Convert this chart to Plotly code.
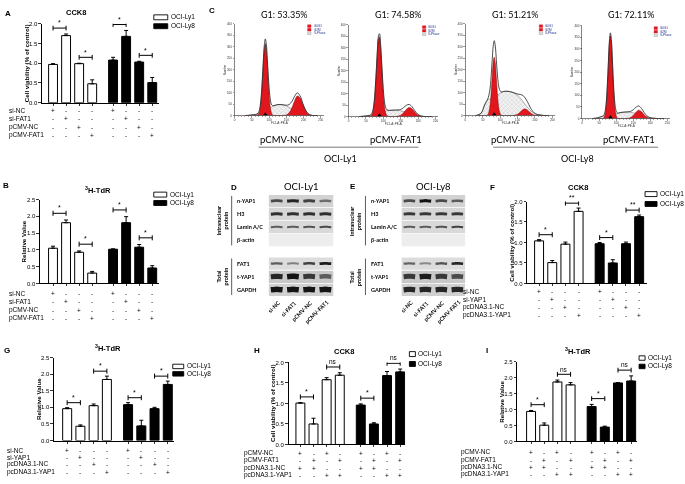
import plotly.graph_objects as go

W, H = 685, 484
ARIAL = "Liberation Sans, Arial, sans-serif"
CAL = "Lato, Open Sans, sans-serif"

# ------------------------------------------------------------------ data
series_names = ["OCI-Ly1", "OCI-Ly8"]

# A  CCK8 (FAT1)
A_ly1 = [0.97, 1.70, 0.99, 0.48]
A_ly1_err = [0.02, 0.04, 0.01, 0.10]
A_ly8 = [1.08, 1.68, 1.03, 0.51]
A_ly8_err = [0.07, 0.15, 0.02, 0.13]
A_sig = ["*", "*", "*", "*"]
A_rows = ["si-NC", "si-FAT1", "pCMV-NC", "pCMV-FAT1"]
A_signs = ["+---+---", "-+---+--", "--+---+-", "---+---+"]

# B  3H-TdR (FAT1)
B_ly1 = [1.05, 1.81, 0.93, 0.31]
B_ly1_err = [0.06, 0.08, 0.04, 0.05]
B_ly8 = [1.02, 1.81, 1.08, 0.46]
B_ly8_err = [0.01, 0.18, 0.08, 0.07]
B_sig = ["*", "*", "*", "*"]
B_rows = ["si-NC", "si-FAT1", "pCMV-NC", "pCMV-FAT1"]
B_signs = ["+---+---", "-+---+--", "--+---+-", "---+---+"]

# F  CCK8 (YAP1)
F_ly1 = [1.04, 0.51, 0.96, 1.76]
F_ly1_err = [0.03, 0.05, 0.05, 0.08]
F_ly8 = [0.97, 0.50, 0.97, 1.63]
F_ly8_err = [0.03, 0.08, 0.04, 0.04]
F_sig = ["*", "**", "*", "**"]
F_rows = ["si-NC", "si-YAP1", "pcDNA3.1-NC", "pcDNA3.1-YAP1"]
F_signs = ["+---+---", "-+---+--", "--+---+-", "---+---+"]

# G  3H-TdR (YAP1)
G_ly1 = [0.96, 0.43, 1.05, 1.84]
G_ly1_err = [0.03, 0.04, 0.05, 0.10]
G_ly8 = [1.08, 0.44, 0.96, 1.69]
G_ly8_err = [0.06, 0.17, 0.04, 0.10]
G_sig = ["*", "*", "*", "*"]
G_rows = ["si-NC", "si-YAP1", "pcDNA3.1-NC", "pcDNA3.1-YAP1"]
G_signs = ["+---+---", "-+---+--", "--+---+-", "---+---+"]

# H  CCK8 (rescue)
H_ly1 = [1.01, 0.50, 1.58, 1.69]
H_ly1_err = [0.01, 0.14, 0.05, 0.06]
H_ly8 = [0.96, 0.50, 1.68, 1.77]
H_ly8_err = [0.03, 0.03, 0.10, 0.07]
H_sig = ["*", "ns", "*", "ns"]
H_rows = ["pCMV-NC", "pCMV-FAT1", "pcDNA3.1-NC", "pcDNA3.1-YAP1"]
H_signs = ["+-+-+-+-", "-+-+-+-+", "++--++--", "--++--++"]

# I  3H-TdR (rescue)
I_ly1 = [0.94, 0.51, 1.86, 1.77]
I_ly1_err = [0.03, 0.07, 0.06, 0.07]
I_ly8 = [1.09, 0.45, 1.83, 1.89]
I_ly8_err = [0.07, 0.03, 0.01, 0.16]
I_sig = ["*", "ns", "*", "ns"]
I_rows = ["pCMV-NC", "pCMV-FAT1", "pcDNA3.1-NC", "pcDNA3.1-YAP1"]
I_signs = ["+-+-+-+-", "-+-+-+-+", "++--++--", "--++--++"]

# C  cell-cycle histograms (values on a shared channel grid)
C_x = [30, 45, 55, 60, 65, 70, 74, 77, 80, 83, 86, 89, 92, 95, 98, 102, 106, 110,
       118, 126, 134, 142, 150, 158, 166, 174, 182, 190, 198, 206, 214, 222, 230, 240]
C1_g1 = [0, 0, 0, 0, 1, 8, 31, 72, 137, 218, 287, 314, 287, 218, 137, 56, 16, 3,
         0, 0, 0, 0, 0, 0, 0, 0, 0, 0, 0, 0, 0, 0, 0, 0]
C1_s = [0, 2, 4, 5, 6, 8, 10, 12, 14, 16, 18, 20, 22, 25, 28, 32, 36, 40,
        45, 48, 48, 46, 42, 36, 28, 20, 14, 9, 5, 3, 2, 1, 0, 0]
C1_g2 = [0, 0, 0, 0, 0, 0, 0, 0, 0, 0, 0, 0, 0, 0, 0, 0, 0, 0,
         0, 0, 0, 1, 3, 12, 33, 64, 85, 77, 48, 21, 6, 1, 0, 0]
C2_g1 = [0, 0, 0, 0, 3, 20, 61, 119, 198, 280, 338, 347, 304, 227, 144, 61, 20, 5,
         0, 0, 0, 0, 0, 0, 0, 0, 0, 0, 0, 0, 0, 0, 0, 0]
C2_s = [0, 2, 4, 5, 6, 8, 9, 10, 11, 12, 13, 14, 15, 17, 19, 21, 23, 25,
        27, 28, 28, 27, 25, 22, 18, 14, 10, 6, 4, 2, 1, 0, 0, 0]
C2_g2 = [0, 0, 0, 0, 0, 0, 0, 0, 0, 0, 0, 0, 0, 0, 0, 0, 0, 0,
         0, 0, 0, 2, 6, 17, 31, 39, 34, 20, 8, 2, 0, 0, 0, 0]
C3_g1 = [0, 0, 0, 0, 5, 34, 97, 166, 229, 254, 229, 166, 97, 46, 18, 4, 0, 0,
         0, 0, 0, 0, 0, 0, 0, 0, 0, 0, 0, 0, 0, 0, 0, 0]
C3_s = [0, 10, 45, 60, 70, 72, 72, 72, 72, 72, 74, 78, 84, 90, 96, 100, 103, 105,
        106, 105, 102, 96, 88, 76, 60, 44, 30, 18, 10, 5, 3, 1, 0, 0]
C3_g2 = [0, 0, 0, 0, 0, 0, 0, 0, 0, 0, 0, 0, 0, 0, 0, 0, 0, 0,
         0, 0, 0, 2, 6, 16, 27, 28, 19, 8, 2, 0, 0, 0, 0, 0]
C4_g1 = [0, 0, 0, 0, 7, 48, 136, 233, 322, 357, 322, 233, 136, 65, 25, 5, 0, 0,
         0, 0, 0, 0, 0, 0, 0, 0, 0, 0, 0, 0, 0, 0, 0, 0]
C4_s = [0, 3, 8, 10, 11, 12, 12, 12, 12, 12, 13, 14, 15, 17, 19, 21, 23, 25,
        27, 28, 28, 27, 25, 22, 18, 14, 10, 6, 4, 2, 1, 0, 0, 0]
C4_g2 = [0, 0, 0, 0, 0, 0, 0, 0, 0, 0, 0, 0, 0, 0, 0, 0, 0, 0,
         0, 0, 1, 4, 13, 27, 36, 30, 16, 6, 1, 0, 0, 0, 0, 0]
C_g1_text = ["G1: 53.35%", "G1: 74.58%", "G1: 51.21%", "G1: 72.11%"]
C_conditions = ["pCMV-NC", "pCMV-FAT1", "pCMV-NC", "pCMV-FAT1"]
C_cells = ["OCI-Ly1", "OCI-Ly8"]
C_legend = ["G0G1", "G2M", "S-Phase"]

# D / E western blots (relative band intensity, 0 = no band)
blot_rows = ["n-YAP1", "H3", "Lamin A/C", "β-actin", "FAT1", "t-YAP1", "GAPDH"]
blot_lanes = ["si-NC", "si-FAT1", "pCMV-NC", "pCMV-FAT1"]
D_bands = [[0.70, 0.90, 0.75, 0.50], [0.85, 0.85, 0.85, 0.85], [0.60, 0.60, 0.65, 0.70],
           [0, 0, 0, 0], [0.60, 0.40, 0.75, 0.95], [0.90, 1.00, 0.80, 0.60], [1.0, 1.0, 1.0, 1.0]]
E_bands = [[0.70, 1.00, 0.70, 0.60], [0.80, 0.80, 0.80, 0.80], [0.60, 0.60, 0.65, 0.75],
           [0, 0, 0, 0], [0.55, 0.35, 0.65, 0.90], [0.80, 0.95, 0.80, 0.70], [0.90, 0.90, 0.90, 0.90]]
D_title = "OCI-Ly1"
E_title = "OCI-Ly8"

# ------------------------------------------------------------------ helpers
fig = go.Figure()
axes = {}
shapes = []
annots = []
count = [0]


def PX(x):
    return x / W


def PY(y):
    return 1 - y / H


def add_axes(xdom, ydom, xrange, yrange, xkw=None, ykw=None):
    count[0] += 1
    s = '' if count[0] == 1 else str(count[0])
    xa = dict(domain=[PX(xdom[0]), PX(xdom[1])], range=list(xrange), anchor='y' + s,
              showgrid=False, zeroline=False, fixedrange=True)
    ya = dict(domain=[PY(ydom[1]), PY(ydom[0])], range=list(yrange), anchor='x' + s,
              showgrid=False, zeroline=False, fixedrange=True)
    if xkw:
        xa.update(xkw)
    if ykw:
        ya.update(ykw)
    axes['xaxis' + s] = xa
    axes['yaxis' + s] = ya
    return 'x' + s, 'y' + s


def txt(x, y, s, size=6, family=ARIAL, bold=False, xanchor='center', yanchor='middle',
        angle=0, color='black', xref='paper', yref='paper'):
    annots.append(dict(
        x=PX(x) if xref == 'paper' else x,
        y=PY(y) if yref == 'paper' else y,
        xref=xref, yref=yref, text=f"<b>{s}</b>" if bold else s, showarrow=False,
        font=dict(size=size, family=family, color=color), xanchor=xanchor,
        yanchor=yanchor, textangle=angle, borderpad=0))


def prect(x0, y0, x1, y1, fill, line='black', lw=0.8):
    shapes.append(dict(type='rect', xref='paper', yref='paper', x0=PX(x0), x1=PX(x1),
                       y0=PY(y1), y1=PY(y0), fillcolor=fill,
                       line=dict(color=line, width=lw)))


def pline(x0, y0, x1, y1, color='black', lw=0.8):
    shapes.append(dict(type='line', xref='paper', yref='paper', x0=PX(x0), x1=PX(x1),
                       y0=PY(y0), y1=PY(y1), line=dict(color=color, width=lw)))


# ------------------------------------------------------------------ bar panels
GAP = 4.6
CCK_Y = "Cell viability (% of control)"
TDR_Y = "Relative Value"
TDR_T = "<sup>3</sup>H-TdR"

bar_panels = [
    dict(data=(A_ly1, A_ly1_err, A_ly8, A_ly8_err, A_sig, A_rows, A_signs), title="CCK8", ytitle=CCK_Y,
         xdom=(41, 158), ydom=(21, 101), xr=(-0.85, 8.1), ymax=2.0, tpos=(75, 10),
         letter=("A", 7, 11), leg=(153, 167, 14.5, 23.5, 5), rows=(7, [109, 117, 126, 134]), off=0.15),
    dict(data=(B_ly1, B_ly1_err, B_ly8, B_ly8_err, B_sig, B_rows, B_signs), title=TDR_T, ytitle=TDR_Y,
         xdom=(39, 158), ydom=(199, 284), xr=(-1.0, 8.1), ymax=2.5, tpos=(97, 189),
         letter=("B", 5, 185), leg=(153, 166, 194, 202.5, 5), rows=(7, [294, 302, 311, 319]), off=0.2),
    dict(data=(F_ly1, F_ly1_err, F_ly8, F_ly8_err, F_sig, F_rows, F_signs), title="CCK8", ytitle=CCK_Y,
         xdom=(527, 647), ydom=(201, 284), xr=(-0.9, 8.2), ymax=2.0, tpos=(578, 187),
         letter=("F", 492, 187), leg=(645, 657, 193.5, 203.5, 5), rows=(462, [292, 300, 308, 316]), off=0.12),
    dict(data=(G_ly1, G_ly1_err, G_ly8, G_ly8_err, G_sig, G_rows, G_signs), title=TDR_T, ytitle=TDR_Y,
         xdom=(53, 173), ydom=(359, 443), xr=(-1.0, 8.05), ymax=2.5, tpos=(107, 349),
         letter=("G", 6, 352), leg=(172, 183, 368, 375.5, 4.5), rows=(5, [453, 460, 467, 475]), off=0.15),
    dict(data=(H_ly1, H_ly1_err, H_ly8, H_ly8_err, H_sig, H_rows, H_signs), title="CCK8", ytitle=CCK_Y,
         xdom=(288, 405), ydom=(364, 447), xr=(-0.9, 8.0), ymax=2.0, tpos=(344, 353),
         letter=("H", 256, 352), leg=(409, 415, 355.5, 365.5, 5), rows=(242, [456, 463, 471, 478]), off=0.14),
    dict(data=(I_ly1, I_ly1_err, I_ly8, I_ly8_err, I_sig, I_rows, I_signs), title=TDR_T, ytitle=TDR_Y,
         xdom=(517, 637), ydom=(363, 444), xr=(-1.05, 8.05), ymax=2.5, tpos=(578, 352),
         letter=("I", 487, 352), leg=(639, 645, 359.5, 368, 4.5), rows=(460, [455, 463, 470, 477]), off=0.18),
]

for p in bar_panels:
    ly1, e1, ly8, e8, sig, rows, signs = p['data']
    n = len(ly1)
    pos1 = [float(i) for i in range(n)]
    pos8 = [i + GAP for i in range(n)]
    allpos = pos1 + pos8
    ymax = p['ymax']
    xr, yr = add_axes(
        p['xdom'], p['ydom'], p['xr'], (0, ymax),
        xkw=dict(showline=True, linecolor='black', linewidth=1, ticks='outside', ticklen=2,
                 tickwidth=0.8, tickcolor='black', tickvals=allpos, showticklabels=False),
        ykw=dict(showline=True, linecolor='black', linewidth=1, ticks='outside', ticklen=2.5,
                 tickwidth=0.8, tickcolor='black', dtick=0.5, tick0=0, tickformat='.1f',
                 tickfont=dict(size=6, family=ARIAL, color='black')))
    for pos, vals, errs, fill, name in [(pos1, ly1, e1, 'white', series_names[0]),
                                        (pos8, ly8, e8, 'black', series_names[1])]:
        fig.add_trace(go.Bar(
            x=pos, y=vals, width=0.68, name=name, xaxis=xr, yaxis=yr,
            marker=dict(color=fill, line=dict(color='black', width=1)),
            error_y=dict(type='data', array=errs, arrayminus=[0] * n, symmetric=False,
                         color='black', thickness=1, width=2)))
    tops = [v + e for v, e in zip(ly1 + ly8, e1 + e8)]
    d = 0.03 * ymax
    for k, lab in enumerate(sig):
        a, b = 2 * k, 2 * k + 1
        h = max(tops[a], tops[b]) + p['off']
        xa, xb = allpos[a], allpos[b]
        fig.add_trace(go.Scatter(
            x=[xa, xa, None, xa, xb, None, xb, xb], y=[h - d, h + d, None, h, h, None, h - d, h + d],
            mode='lines', line=dict(color='black', width=1), xaxis=xr, yaxis=yr,
            cliponaxis=False, hoverinfo='skip'))
        txt((xa + xb) / 2, h + 0.01 * ymax, lab, size=6.5 if lab == 'ns' else 7,
            xref=xr, yref=yr, yanchor='bottom')
    # titles
    txt(p['tpos'][0], p['tpos'][1], p['title'], size=7.5, bold=True)
    txt(p['xdom'][0] - 16, (p['ydom'][0] + p['ydom'][1]) / 2, p['ytitle'], size=6.2,
        bold=True, angle=-90)
    txt(p['letter'][1], p['letter'][2], p['letter'][0], size=8, bold=True)
    # legend
    lx0, lx1, ly_a, ly_b, lh = p['leg']
    for yy, fill, name in [(ly_a, 'white', series_names[0]), (ly_b, 'black', series_names[1])]:
        prect(lx0, yy - lh / 2, lx1, yy + lh / 2, fill, 'black', 0.9)
        txt(lx1 + 2, yy, name, size=6.5, xanchor='left')
    # condition table
    rx, rys = p['rows']
    for r, lab in enumerate(rows):
        txt(rx, rys[r], lab, size=6.5, xanchor='left')
        for j, ch in enumerate(signs[r]):
            txt(allpos[j], rys[r], '+' if ch == '+' else '-', size=6.5, xref=xr)

# ------------------------------------------------------------------ C histograms
hist_boxes = [((234, 323), (21, 114)), ((348, 438), (22, 115)),
              ((465, 555), (21, 114)), ((582, 670), (23, 117))]
hist_data = [(C1_g1, C1_s, C1_g2), (C2_g1, C2_s, C2_g2),
             (C3_g1, C3_s, C3_g2), (C4_g1, C4_s, C4_g2)]
RED = '#e2161d'
for k, ((xd, yd), (g1, s, g2)) in enumerate(zip(hist_boxes, hist_data)):
    xr, yr = add_axes(
        xd, yd, (0, 258), (0, 400),
        xkw=dict(showline=True, linecolor='#333', linewidth=0.6, ticks='outside', ticklen=1.5,
                 tickwidth=0.5, tickcolor='#333', dtick=50, tick0=0,
                 tickfont=dict(size=3, family=ARIAL, color='#333'),
                 minor=dict(ticks='outside', ticklen=1, dtick=10, tickcolor='#333', tickwidth=0.4)),
        ykw=dict(showline=True, linecolor='#333', linewidth=0.6, ticks='outside', ticklen=1.5,
                 tickwidth=0.5, tickcolor='#333', dtick=50, tick0=0,
                 tickfont=dict(size=3, family=ARIAL, color='#333')))
    fig.add_trace(go.Scatter(x=C_x, y=s, mode='lines', line=dict(color='#666', width=0.5, shape='spline'),
                             fill='tozeroy', fillcolor='white',
                             fillpattern=dict(shape='x', fgcolor='#8a8a8a', bgcolor='#f4f4f4', size=3, solidity=0.25),
                             xaxis=xr, yaxis=yr, hoverinfo='skip'))
    for comp in (g1, g2):
        fig.add_trace(go.Scatter(x=C_x, y=comp, mode='lines', line=dict(color='#7a0a0a', width=0.5, shape='spline'),
                                 fill='tozeroy', fillcolor=RED, xaxis=xr, yaxis=yr, hoverinfo='skip'))
    total = [a + b + c for a, b, c in zip(g1, s, g2)]
    fig.add_trace(go.Scatter(x=C_x, y=total, mode='lines', line=dict(color='#222', width=0.8, shape='spline'),
                             xaxis=xr, yaxis=yr, hoverinfo='skip'))
    peak_x = C_x[g1.index(max(g1))]
    fig.add_trace(go.Scatter(x=[peak_x], y=[6], mode='markers',
                             marker=dict(symbol='triangle-up', size=4, color='black'),
                             xaxis=xr, yaxis=yr, cliponaxis=False, hoverinfo='skip'))
    # axis titles
    txt(xd[0] - 10, (yd[0] + yd[1]) / 2, "Number", size=3, angle=-90, color='#333')
    txt((xd[0] + xd[1]) / 2, yd[1] + 8, "FL2-A::PE-A", size=3, color='#333')
    # little legend
    lx = xd[1] - 16
    for i, lab in enumerate(C_legend):
        yy = yd[0] + 1 + i * 3.6
        if i < 2:
            prect(lx, yy, lx + 3.5, yy + 2.8, RED, RED, 0.3)
        else:
            prect(lx, yy, lx + 3.5, yy + 2.8, '#dddddd', '#777', 0.3)
        txt(lx + 5, yy + 1.4, lab, size=3, xanchor='left', color='#1f2f8f')
    # text labels
    txt((xd[0] + xd[1]) / 2 + 5, 12, C_g1_text[k], size=9, family=CAL)
    txt((xd[0] + xd[1]) / 2 + 3, 138, C_conditions[k], size=9.5, family=CAL)

pline(258, 146, 418, 146, '#555', 0.8)
pline(493, 146, 658, 146, '#555', 0.8)
txt(340, 157, C_cells[0], size=9, family=CAL)
txt(577, 157, C_cells[1], size=9, family=CAL)
txt(211, 8, "C", size=8, bold=True)

# ------------------------------------------------------------------ D / E blots
ROW_Y = [0, 1, 2, 3, 4.8, 5.8, 6.8]
STRIP_BG = ['#d2d2d2', '#d6d6d6', '#d9d9d9', '#ededed', '#dcdcdc', '#c8c8c8', '#d0d0d0']
ROW_THICK = [3.2, 3.2, 2.4, 0, 2.8, 5.5, 5.5]
blots = [dict(bands=D_bands, title=D_title, box=(268, 333), lab_x=235, grp_x=222, grp_line=231,
              letter=("D", 233, 187)),
         dict(bands=E_bands, title=E_title, box=(401, 465), lab_x=370, grp_x=355, grp_line=365,
              letter=("E", 353, 186))]
for b in blots:
    xr, yr = add_axes(b['box'], (194, 297), (-0.5, 3.5), (7.3, -0.5),
                      xkw=dict(visible=False), ykw=dict(visible=False))
    for r, yv in enumerate(ROW_Y):
        shapes.append(dict(type='rect', xref=xr, yref=yr, x0=-0.5, x1=3.5, y0=yv - 0.47, y1=yv + 0.47,
                           fillcolor=STRIP_BG[r], line=dict(width=0), layer='below'))
        for lane, inten in enumerate(b['bands'][r]):
            if inten <= 0:
                continue
            g = int(200 - 180 * inten)
            fig.add_trace(go.Scatter(
                x=[lane - 0.36, lane - 0.1, lane + 0.1, lane + 0.36], y=[yv, yv - 0.03, yv - 0.03, yv],
                mode='lines', line=dict(color=f'rgb({g},{g},{g})', width=ROW_THICK[r] * (0.55 + 0.45 * inten),
                                        shape='spline'),
                xaxis=xr, yaxis=yr, hoverinfo='skip'))
        txt(b['lab_x'], yv, blot_rows[r], size=5.5, family=CAL, bold=True, xanchor='left', yref=yr)
    for lane, lab in enumerate(blot_lanes):
        txt(lane + 0.35, 299, lab, size=5.5, family=CAL, bold=True, angle=-45,
            xanchor='right', yanchor='top', xref=xr)
    txt((b['box'][0] + b['box'][1]) / 2, 186, b['title'], size=9.5, family=CAL)
    txt(b['letter'][1], b['letter'][2], b['letter'][0], size=8, bold=True)
    # group brackets
    shapes.append(dict(type='line', xref='paper', yref=yr, x0=PX(b['grp_line']), x1=PX(b['grp_line']),
                       y0=-0.4, y1=3.4, line=dict(color='#333', width=0.8)))
    shapes.append(dict(type='line', xref='paper', yref=yr, x0=PX(b['grp_line']), x1=PX(b['grp_line']),
                       y0=4.4, y1=7.2, line=dict(color='#333', width=0.8)))
    txt(b['grp_x'], 1.5, "Intranuclear<br>protein", size=5.5, family=CAL, bold=True, angle=-90, yref=yr)
    txt(b['grp_x'], 5.8, "Total<br>protein", size=5.5, family=CAL, bold=True, angle=-90, yref=yr)

fig.update_layout(width=W, height=H, margin=dict(l=0, r=0, t=0, b=0),
                  paper_bgcolor='white', plot_bgcolor='white', showlegend=False,
                  barmode='overlay', shapes=shapes, annotations=annots, **axes)
fig.write_html(
    "out.html",
    config={'displayModeBar': False, 'staticPlot': True},
    post_script=("document.body.style.margin='0';document.body.style.overflow='hidden';"
                 "document.querySelectorAll('.main-svg').forEach(function(s){s.style.willChange='transform';});"))
